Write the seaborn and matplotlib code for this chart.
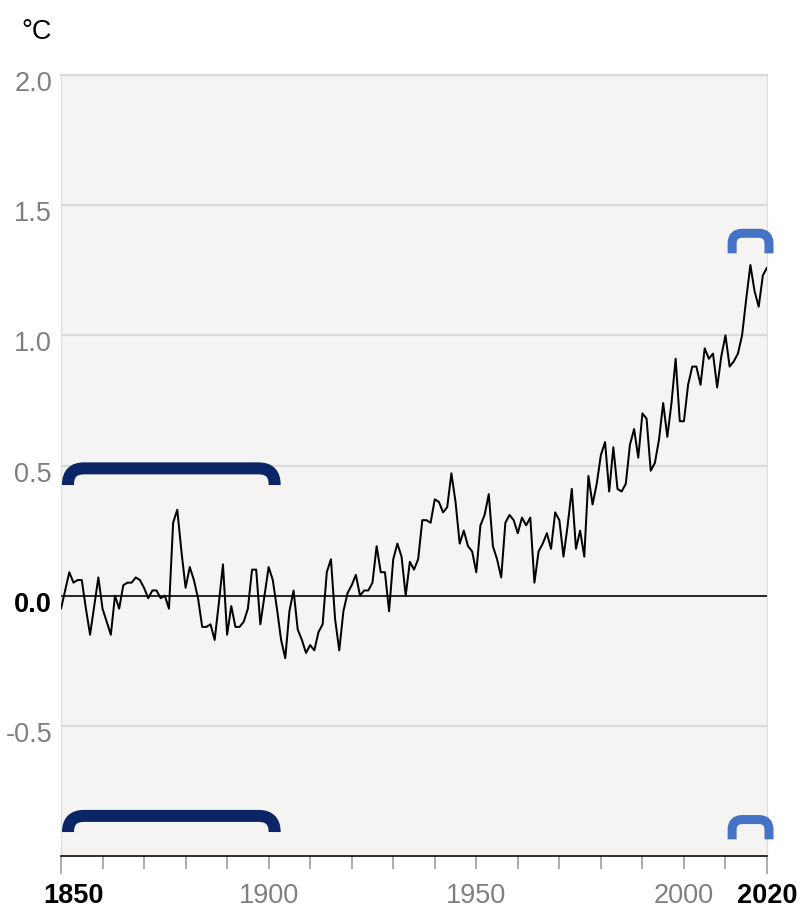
import matplotlib
matplotlib.use("Agg")
import matplotlib.pyplot as plt
import numpy as np
import pandas as pd
import seaborn as sns
from matplotlib.path import Path
from matplotlib.patches import PathPatch
from matplotlib.transforms import offset_copy
from matplotlib import font_manager as fm

# Annual global mean temperature anomaly (°C, relative to 1850-1900)
years = list(range(1850, 2021))
anomaly = [
    -0.05, 0.02, 0.09, 0.05, 0.06, 0.06, -0.05, -0.15, -0.04, 0.07,   # 1850s
    -0.05, -0.10, -0.15, 0.00, -0.05, 0.04, 0.05, 0.05, 0.07, 0.06,   # 1860s
    0.03, -0.01, 0.02, 0.02, -0.01, 0.00, -0.05, 0.28, 0.33, 0.17,    # 1870s
    0.03, 0.11, 0.06, -0.01, -0.12, -0.12, -0.11, -0.17, -0.03, 0.12, # 1880s
    -0.15, -0.04, -0.12, -0.12, -0.10, -0.05, 0.10, 0.10, -0.11, 0.00,# 1890s
    0.11, 0.06, -0.05, -0.17, -0.24, -0.06, 0.02, -0.13, -0.17, -0.22,# 1900s
    -0.19, -0.21, -0.14, -0.11, 0.09, 0.14, -0.09, -0.21, -0.06, 0.01,# 1910s
    0.04, 0.08, 0.00, 0.02, 0.02, 0.05, 0.19, 0.09, 0.09, -0.06,      # 1920s
    0.14, 0.20, 0.15, 0.00, 0.13, 0.10, 0.14, 0.29, 0.29, 0.28,       # 1930s
    0.37, 0.36, 0.32, 0.34, 0.47, 0.36, 0.20, 0.25, 0.19, 0.17,       # 1940s
    0.09, 0.27, 0.31, 0.39, 0.19, 0.14, 0.07, 0.28, 0.31, 0.29,       # 1950s
    0.24, 0.30, 0.27, 0.30, 0.05, 0.17, 0.20, 0.24, 0.18, 0.32,       # 1960s
    0.29, 0.15, 0.27, 0.41, 0.18, 0.25, 0.15, 0.46, 0.35, 0.43,       # 1970s
    0.54, 0.59, 0.40, 0.57, 0.41, 0.40, 0.43, 0.58, 0.64, 0.53,       # 1980s
    0.70, 0.68, 0.48, 0.51, 0.60, 0.74, 0.61, 0.74, 0.91, 0.67,       # 1990s
    0.67, 0.81, 0.88, 0.88, 0.81, 0.95, 0.91, 0.93, 0.80, 0.92,       # 2000s
    1.00, 0.88, 0.90, 0.93, 1.00, 1.14, 1.27, 1.17, 1.11, 1.23,       # 2010s
    1.26,                                                             # 2020
]

y_ticks = [-0.5, 0.0, 0.5, 1.0, 1.5, 2.0]
y_tick_labels = ["-0.5", "0.0", "0.5", "1.0", "1.5", "2.0"]
x_major = [1850, 1900, 1950, 2000, 2020]
x_major_labels = ["1850", "1900", "1950", "2000", "2020"]
x_minor = [1860, 1870, 1880, 1890, 1910, 1920, 1930, 1940, 1960, 1970,
           1980, 1990, 2010]
baseline_period = (1850, 1900)
recent_period = (2011, 2020)
unit_label = "°C"

df = pd.DataFrame({"year": years, "anomaly": anomaly})

sns.set_style("white")
plt.rcParams["font.family"] = ["Liberation Sans", "DejaVu Sans"]
FSIZE = 19.5
FP_REG = fm.FontProperties(family=["Liberation Sans", "DejaVu Sans"], size=FSIZE)
FP_BOLD = fm.FontProperties(family=["Liberation Sans", "DejaVu Sans"],
                            weight="bold", size=FSIZE)

W, H = 801, 910
L, R, T, B = 61, 767, 75, 856          # plot area in pixels
PX = 0.72                               # points per pixel at 100 dpi
GRAY_TXT = "#7f7f7f"
NAVY = "#0b2566"
BLUE = "#4472c4"

fig = plt.figure(figsize=(W / 100, H / 100), dpi=100)
fig.patch.set_facecolor("white")
ax = fig.add_axes([L / W, 1 - B / H, (R - L) / W, (B - T) / H])
ax.set_facecolor("#f5f4f2")

sns.lineplot(data=df, x="year", y="anomaly", color="black",
             linewidth=2.0 * PX, ax=ax, zorder=4)
ax.set_xlim(1850, 2020)
ax.set_ylim(-1.0, 2.0)
ax.set_xlabel("")
ax.set_ylabel("")

# horizontal grid + zero line
ax.set_yticks(y_ticks)
ax.yaxis.grid(True, color="#dadada", linewidth=2.2 * PX, zorder=1)
ax.set_axisbelow(True)
ax.axhline(0, color="black", linewidth=1.6 * PX, zorder=3)
ax.tick_params(axis="y", length=0, left=False, labelleft=False)

# spines
for side in ("left", "right"):
    ax.spines[side].set_color("#dddddd")
    ax.spines[side].set_linewidth(1.2 * PX)
ax.spines["top"].set_color("#dadada")
ax.spines["top"].set_linewidth(2.2 * PX)
ax.spines["bottom"].set_color("black")
ax.spines["bottom"].set_linewidth(1.6 * PX)

# decade ticks below the time axis
ax.set_xticks(x_major)
ax.set_xticks(x_minor, minor=True)
ax.tick_params(axis="x", which="both", bottom=True, direction="out",
               length=13 * PX, width=1.6 * PX, color="#9a9a9a",
               labelbottom=False)
for tk, lab in zip(ax.xaxis.get_major_ticks(), x_major_labels):
    if lab in ("1850", "2020"):
        tk.tick1line.set_color("black")
        tk.tick1line.set_markersize(18 * PX)

# y tick labels
for v, lab in zip(y_ticks, y_tick_labels):
    tr = offset_copy(ax.get_yaxis_transform(), fig=fig, x=-9, y=-16, units="dots")
    strong = lab == "0.0"
    ax.text(0, v, lab, transform=tr, ha="right", va="baseline",
            fontproperties=FP_BOLD if strong else FP_REG,
            color="black" if strong else GRAY_TXT)

# x tick labels
for v, lab in zip(x_major, x_major_labels):
    dx = 12 if lab == "1850" else 0
    tr = offset_copy(ax.get_xaxis_transform(), fig=fig, x=dx, y=-47, units="dots")
    strong = lab in ("1850", "2020")
    ax.text(v, 0, lab, transform=tr, ha="center", va="baseline",
            fontproperties=FP_BOLD if strong else FP_REG,
            color="black" if strong else GRAY_TXT)

fig.text(21 / W, 1 - 39 / H, unit_label, ha="left", va="baseline",
         fontproperties=FP_REG, color="black")

# period brackets
yr_per_px = (2020 - 1850) / (R - L)
val_per_px = 3.0 / (B - T)


def bracket(x0, x1, ytop, yend, r_px, color, lw_px):
    rx, ry = r_px * yr_per_px, r_px * val_per_px
    verts = [(x0, yend), (x0, ytop - ry), (x0, ytop), (x0 + rx, ytop),
             (x1 - rx, ytop), (x1, ytop), (x1, ytop - ry), (x1, yend)]
    codes = [Path.MOVETO, Path.LINETO, Path.CURVE3, Path.CURVE3,
             Path.LINETO, Path.CURVE3, Path.CURVE3, Path.LINETO]
    ax.add_patch(PathPatch(Path(verts, codes), fill=False, edgecolor=color,
                           linewidth=lw_px * PX, capstyle="butt",
                           joinstyle="round", clip_on=False, zorder=5))


b0 = baseline_period[0] + 7 * yr_per_px
b1 = baseline_period[1] + 6 * yr_per_px
r0 = recent_period[0] + 2.5 * yr_per_px
r1 = recent_period[1] + 2 * yr_per_px
bracket(b0, b1, 0.489, 0.425, 16, NAVY, 12)
bracket(b0, b1, -0.846, -0.908, 16, NAVY, 12)
bracket(r0, r1, 1.392, 1.315, 10, BLUE, 9)
bracket(r0, r1, -0.860, -0.936, 10, BLUE, 9)

fig.savefig("out.png", dpi=100)
